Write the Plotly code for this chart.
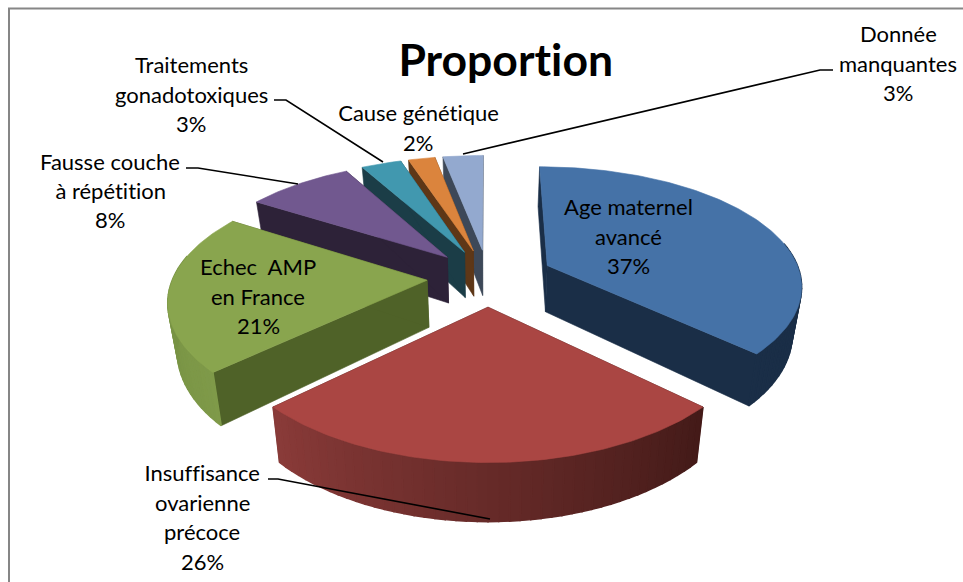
import math
import plotly.graph_objects as go

categories = ["Age maternel avancé", "Insuffisance ovarienne précoce", "Echec AMP en France",
              "Fausse couche à répétition", "Traitements gonadotoxiques", "Cause génétique",
              "Donnée manquantes"]
values = [37, 26, 21, 8, 3, 2, 3]
explode = [0.258, 0.24, 0.24, 0.24, 0.24, 0.24, 0.24]
top_colors = ["#4572A7", "#AA4643", "#89A54E", "#71588F", "#4198AF", "#DB843D", "#93A9CF"]
wall_from = ["#1A2E47", "#431A18", "#7F9A49", "#2D2238", "#1B3D47", "#5E3717", "#3D4858"]
wall_to = ["#1A2E47", "#8A3B39", "#6F8A3F", "#2D2238", "#1B3D47", "#5E3717", "#3D4858"]
cut_colors = ["#1A2E47", "#431A18", "#4F6228", "#2D2238", "#1B3D47", "#5E3717", "#3D4858"]
draw_order = [6, 5, 4, 3, 0, 2, 1]

label_lines = [
    (628, [206, 236, 265], ["Age maternel", "avancé", "37%"]),
    (202, [472, 502, 531, 561], ["Insuffisance", "ovarienne", "précoce", "26%"]),
    (258, [266, 296, 325], ["Echec  AMP", "en France", "21%"]),
    (110, [161, 190, 219], ["Fausse couche", "à répétition", "8%"]),
    (191, [64, 94, 123], ["Traitements", "gonadotoxiques", "3%"]),
    (418, [112, 142], ["Cause génétique", "2%"]),
    (898, [33, 63, 92], ["Donnée", "manquantes", "3%"]),
]
leaders = [
    ([268, 278, 490], [479, 479, 519]),
    ([186, 198, 298], [168, 168, 184]),
    ([274, 286, 383], [100, 100, 162]),
    ([833, 820, 463], [70, 70, 154]),
]

CX, CY = 488, 277.5
A, B = 254, 118.7
P, PX = 0.165, 0.15
DEPTH, SHRINK = 47, 0.03
FONT = "Lato"
FS = 22


def project(x, y, z):
    s = 1 / (1 - P * y)
    sx = 1 / (1 - PX * y)
    return CX + A * x * sx * (1 - SHRINK * z), CY + B * y * s + DEPTH * z * s


def rim(angle, off):
    r = math.radians(angle)
    return math.sin(r) + off[0], -math.cos(r) + off[1]


def mix(c1, c2, t):
    a = [int(c1[i:i + 2], 16) for i in (1, 3, 5)]
    b = [int(c2[i:i + 2], 16) for i in (1, 3, 5)]
    return "rgb(%d,%d,%d)" % tuple(round(p + (q - p) * t) for p, q in zip(a, b))


fig = go.Figure()


def poly(points, color, w=0.6):
    xs, ys = zip(*points)
    fig.add_trace(go.Scatter(x=list(xs) + [xs[0]], y=list(ys) + [ys[0]], mode="lines", fill="toself",
                             fillcolor=color, line=dict(color=color, width=w),
                             hoverinfo="skip", showlegend=False))


total = sum(values)
starts = [sum(values[:i]) / total * 360 for i in range(len(values))]
ends = [sum(values[:i + 1]) / total * 360 for i in range(len(values))]

for i in draw_order:
    a0, a1 = starts[i], ends[i]
    mid = math.radians((a0 + a1) / 2)
    off = (explode[i] * math.sin(mid), -explode[i] * math.cos(mid))
    for ang in (a0, a1):
        rx, ry = rim(ang, off)
        poly([project(*off, 0), project(rx, ry, 0), project(rx, ry, 1), project(*off, 1)], cut_colors[i])
    n = max(4, int((a1 - a0) / 2))
    steps = [a0 + (a1 - a0) * k / n for k in range(n + 1)]
    for k in range(n):
        u, v = steps[k], steps[k + 1]
        if math.cos(math.radians((u + v) / 2)) > 0.2:
            continue
        ux, uy = rim(u, off)
        vx, vy = rim(v, off)
        poly([project(ux, uy, 0), project(vx, vy, 0), project(vx, vy, 1), project(ux, uy, 1)],
             mix(wall_from[i], wall_to[i], (k + 0.5) / n), w=1.5)
    n2 = max(12, int(a1 - a0))
    top = [project(*off, 0)] + [project(*rim(a0 + (a1 - a0) * k / n2, off), 0) for k in range(n2 + 1)]
    poly(top, top_colors[i])

for lx, ly in leaders:
    fig.add_trace(go.Scatter(x=lx, y=ly, mode="lines", line=dict(color="black", width=1.6),
                             hoverinfo="skip", showlegend=False))

fig.add_trace(go.Scatter(x=[963, 9, 9], y=[8.5, 8.5, 582], mode="lines", line=dict(color="#868686", width=2),
                         hoverinfo="skip", showlegend=False))

for cx_, ys_, lines_ in label_lines:
    for ly_, text_ in zip(ys_, lines_):
        fig.add_annotation(x=cx_, y=ly_, text=text_, showarrow=False, xanchor="center", yanchor="middle",
                           font=dict(family=FONT, size=FS, color="black"))
fig.add_annotation(x=505, y=58, text="<b>Proportion</b>", showarrow=False, xanchor="center", yanchor="middle",
                   font=dict(family=FONT, size=44.5, color="black"))

fig.update_layout(width=963, height=582, margin=dict(l=0, r=0, t=0, b=0), paper_bgcolor="white",
                  plot_bgcolor="white", showlegend=False,
                  xaxis=dict(range=[0, 963], visible=False, fixedrange=True),
                  yaxis=dict(range=[582, 0], visible=False, fixedrange=True))
# remove the page's default body margin so the figure fills the window exactly; turn off text ligatures
post = ("document.body.style.margin='0';document.body.style.overflow='hidden';"
        "var st=document.createElement('style');"
        "st.textContent='text{font-variant-ligatures:none !important;}';"
        "document.head.appendChild(st);")
fig.write_html("out.html", config=dict(displayModeBar=False), post_script=post)
